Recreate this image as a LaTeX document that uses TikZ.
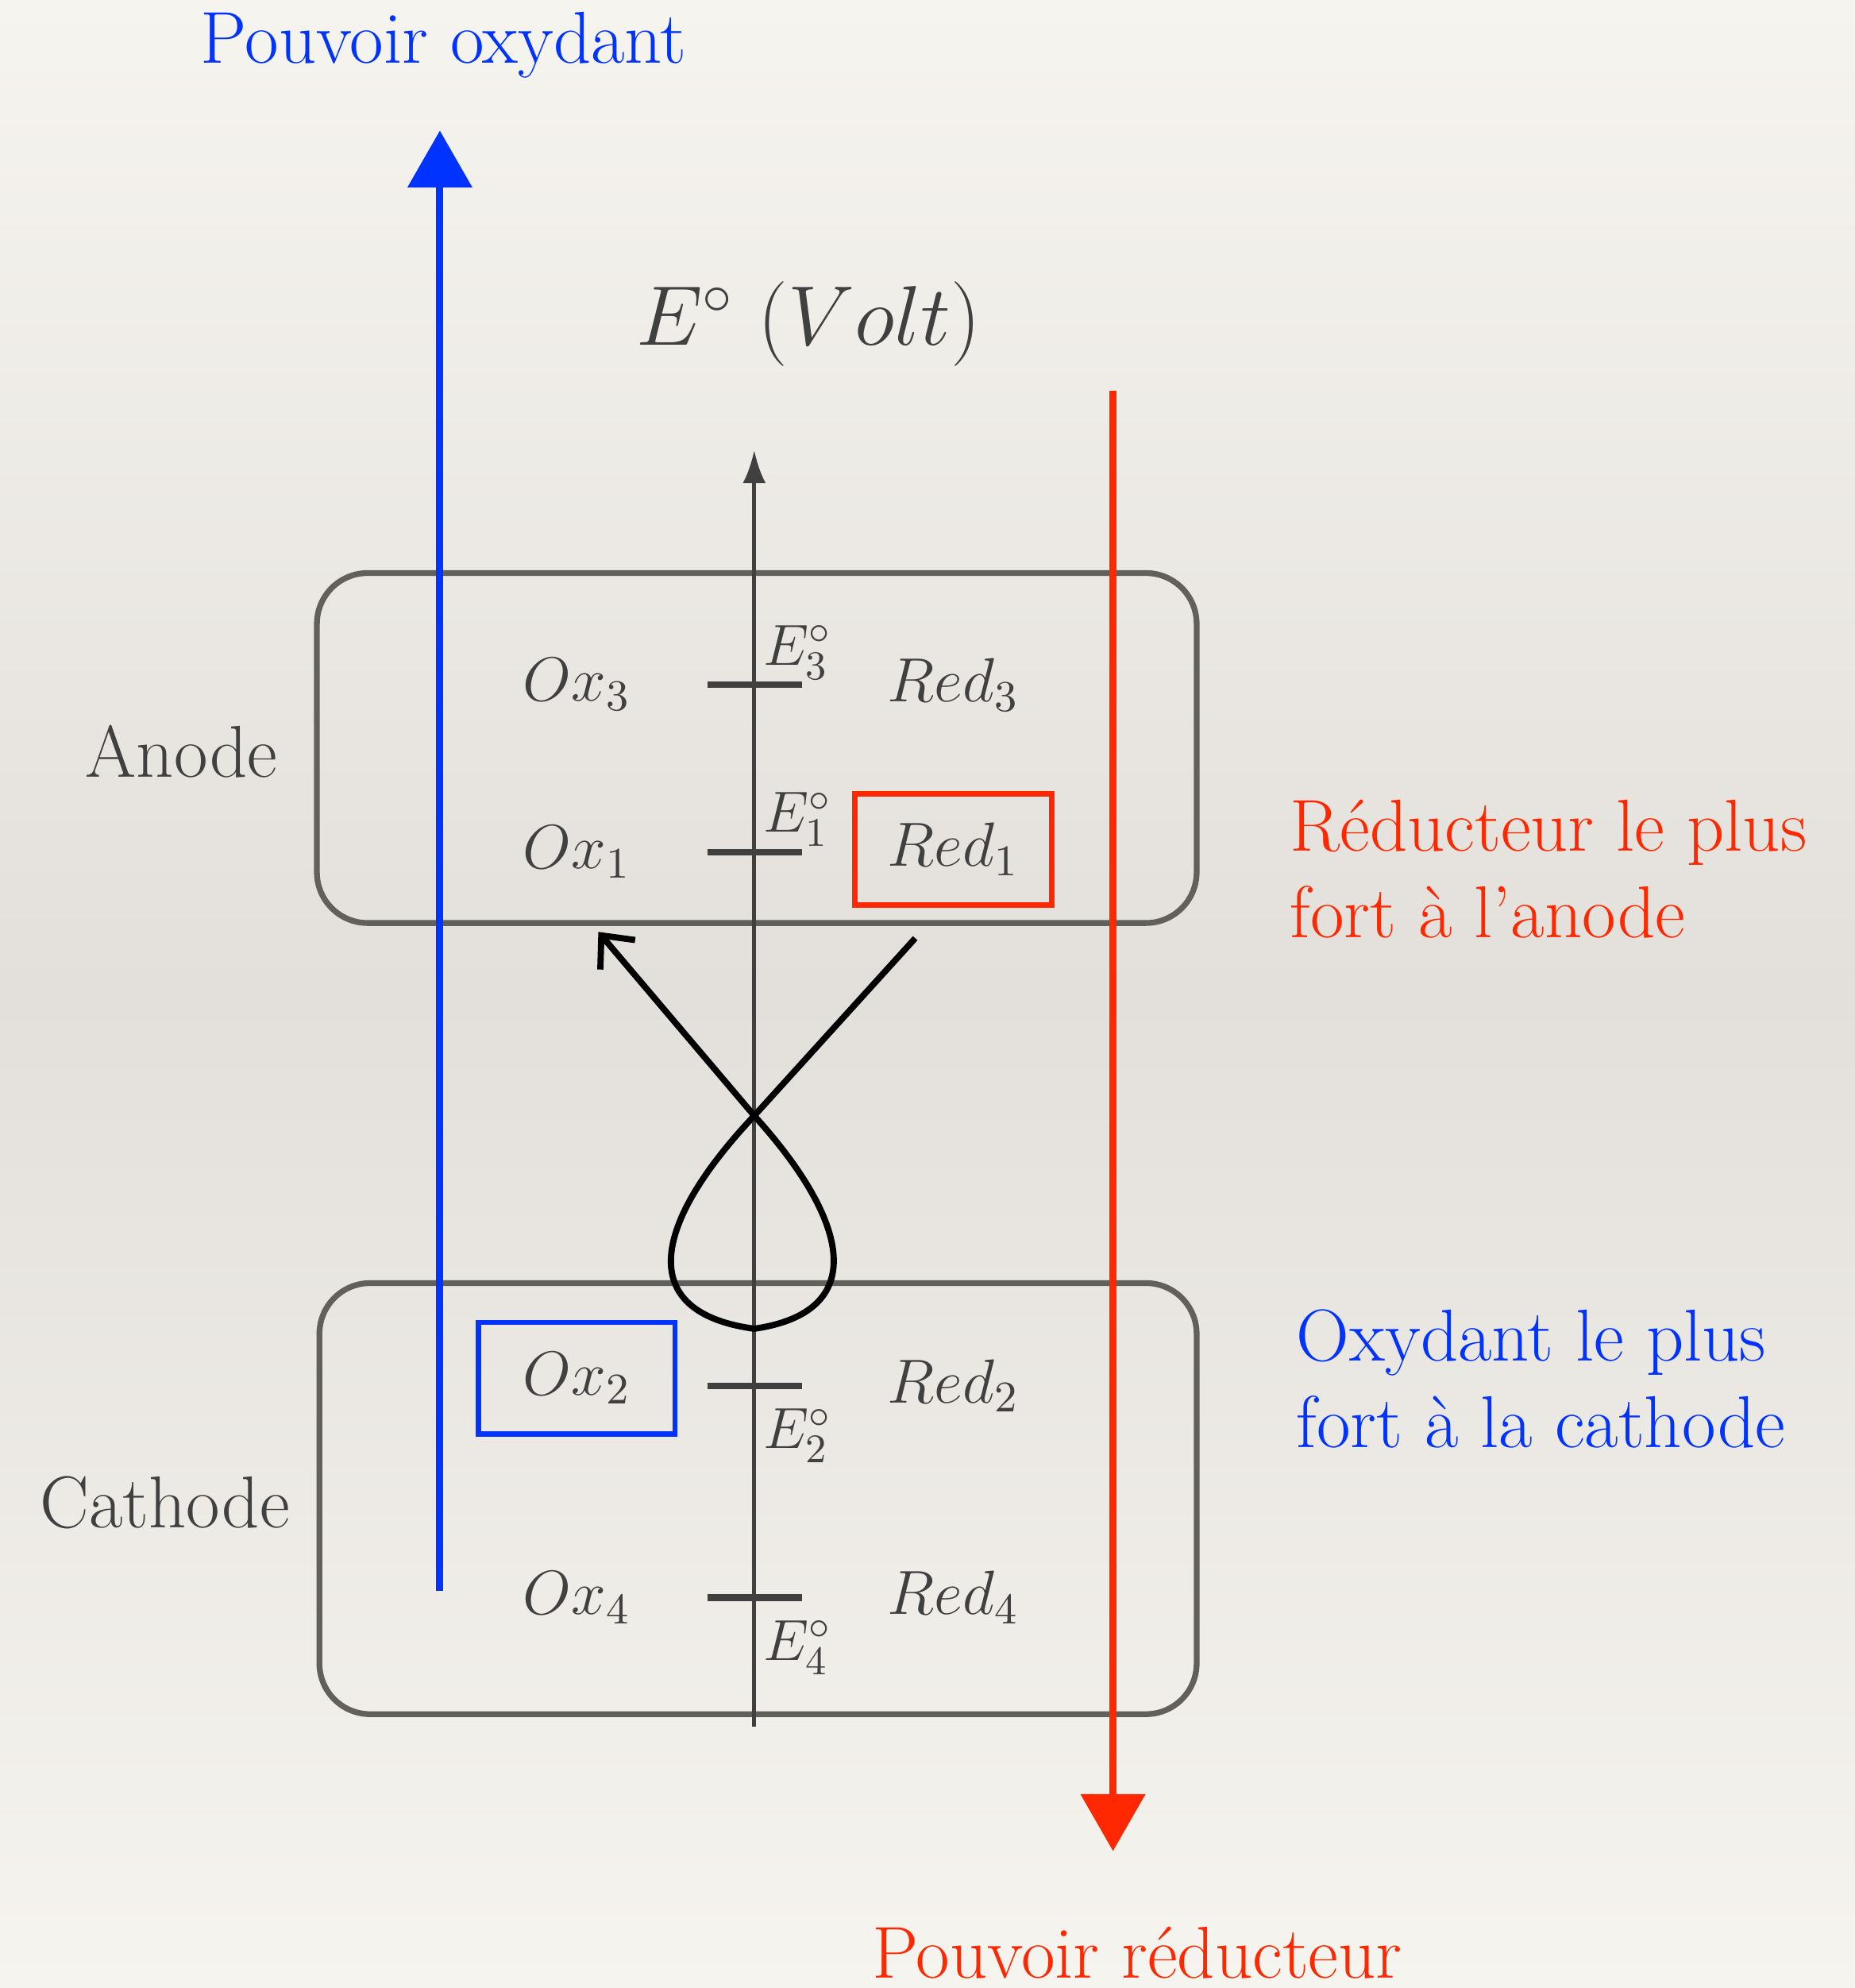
\RequirePackage{fix-cm}
\documentclass[tikz,border=0pt]{standalone}
\usetikzlibrary{arrows.meta, positioning, calc}
\definecolor{paper}{RGB}{246,244,239}
\definecolor{papermid}{RGB}{227,224,219}
\definecolor{ink}{RGB}{64,64,64}
\definecolor{frame}{RGB}{98,96,93}
\definecolor{oxblue}{RGB}{0,51,255}
\definecolor{redred}{RGB}{255,40,0}
\tikzset{
  zone/.style={rectangle, rounded corners=0.4cm, draw=frame, line width=1.3pt, inner sep=0pt},
  species/.style={font=\fontsize{14}{17}\selectfont, text=ink, inner sep=0pt},
  potlabel/.style={font=\fontsize{13}{16}\selectfont, text=ink, inner sep=1pt},
  level/.style={draw=ink, line width=1.5pt},
  electrode/.style={font=\fontsize{16.5}{20}\selectfont, text=ink},
  remark/.style={font=\fontsize{16.5}{19.5}\selectfont, align=left, anchor=north west, inner sep=0pt},
  power/.style={line width=1.6pt, -{Triangle[length=4.5mm,width=5mm]}},
  hl/.style={draw, line width=1.2pt, minimum width=1.55cm, minimum height=0.88cm},
  axis/.style={draw=ink, line width=0.9pt, -{Latex[length=2.6mm,width=1.8mm]}},
  transfer/.style={line width=1.4pt, -{Straight Barb[length=2mm,width=3.6mm]}},
}
\begin{document}
\begin{tikzpicture}
  \useasboundingbox (0,0) rectangle (14.63,-15.68);
  \shade[top color=paper, bottom color=paper, middle color=papermid] (0,0) rectangle (14.63,-15.68);

  % the two electrodes
  \node[zone, minimum width=6.94cm, minimum height=2.76cm] (anodebox) at (5.97,-5.90) {};
  \node[zone, minimum width=6.92cm, minimum height=3.40cm] (cathodebox) at (5.98,-11.82) {};
  \node[electrode] (anode) at (1.43,-5.93) {Anode};
  \node[electrode] (cathode) at (1.30,-11.85) {Cathode};

  % potential axis
  \coordinate (axlow) at (5.95,-13.62);
  \coordinate (axhigh) at (5.95,-3.55);
  \draw[axis] (axlow) -- (axhigh);
  \node[font=\fontsize{19}{23}\selectfont, text=ink, anchor=base] (volt) at (6.38,-2.72) {$E^\circ\;(Volt)$};

  \foreach \n/\y in {3/5.40, 1/6.72, 2/10.93, 4/12.60} {
    \coordinate (e\n) at (5.95,-\y);
    \draw[level] ($(e\n)+(-0.37,0)$) -- ($(e\n)+(0.38,0)$);
  }
  \node[potlabel, above right=0pt and 0.03cm of e3] (pot3) {$E^\circ_3$};
  \node[potlabel, above right=0pt and 0.03cm of e1] (pot1) {$E^\circ_1$};
  \node[potlabel, below right=0.14cm and 0.03cm of e2] (pot2) {$E^\circ_2$};
  \node[potlabel, below right=0.14cm and 0.03cm of e4] (pot4) {$E^\circ_4$};

  % couples
  \node[species] (ox3) at (4.55,-5.40) {$Ox_3$};
  \node[species] (red3) at (7.52,-5.40) {$Red_3$};
  \node[species] (ox1) at (4.55,-6.72) {$Ox_1$};
  \node[species, hl, draw=redred] (red1) at (7.52,-6.70) {$Red_1$};
  \node[species, hl, draw=oxblue] (ox2) at (4.55,-10.87) {$Ox_2$};
  \node[species] (red2) at (7.52,-10.93) {$Red_2$};
  \node[species] (ox4) at (4.55,-12.60) {$Ox_4$};
  \node[species] (red4) at (7.52,-12.60) {$Red_4$};

  % scales of strength
  \coordinate (oxlow) at (3.47,-12.55);
  \coordinate (oxtop) at (3.47,-1.03);
  \coordinate (redtop) at (8.78,-3.08);
  \coordinate (redlow) at (8.78,-14.60);
  \draw[power, oxblue] (oxlow) -- (oxtop);
  \draw[power, redred] (redtop) -- (redlow);
  \node[font=\fontsize{16.5}{20}\selectfont, text=oxblue, anchor=base] (oxpower) at (3.50,-0.50) {Pouvoir oxydant};
  \node[font=\fontsize{16.5}{20}\selectfont, text=redred, anchor=base, inner sep=0pt] (redpower) at (8.97,-15.60) {Pouvoir réducteur};

  \node[remark, text=redred] (anodenote) at (10.17,-6.30) {Réducteur le plus\\fort à l’anode};
  \node[remark, text=oxblue] (cathodenote) at (10.22,-10.32) {Oxydant le plus\\fort à la cathode};

  % electron exchange loop
  \coordinate (from) at (7.22,-7.40);
  \coordinate (cross) at (5.95,-8.80);
  \coordinate (loopend) at (5.95,-10.48);
  \coordinate (to) at (4.72,-7.35);
  \draw[transfer] (from) -- (cross)
    .. controls (5.15,-9.65) and (5.0,-10.35) .. (loopend)
    .. controls (6.85,-10.35) and (6.72,-9.65) .. (cross) -- (to);
\end{tikzpicture}
\end{document}
